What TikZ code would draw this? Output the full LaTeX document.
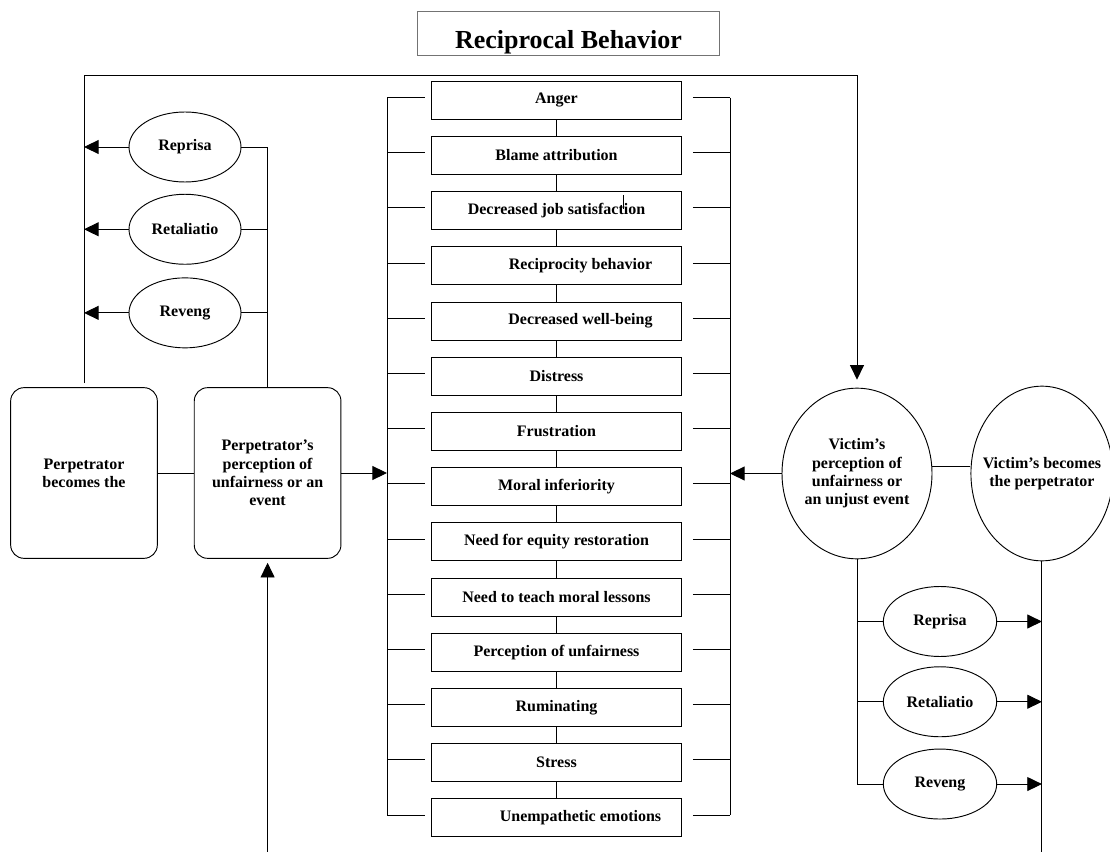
\documentclass[tikz,border=0pt]{standalone}
\usepackage{fontspec}
\setmainfont{Liberation Serif}
\usetikzlibrary{positioning, shapes.geometric, arrows.meta}

\begin{document}
\begin{tikzpicture}[x=0.75pt, y=-0.75pt, >={Triangle[length=11pt,width=10.5pt]},
    line width=0.7pt, font=\bfseries\fontsize{12}{13.7}\selectfont,
    midbox/.style={draw, rectangle, minimum width=188pt, minimum height=28.5pt, inner sep=0pt},
    outcome/.style={draw, ellipse, minimum width=84pt, minimum height=52.5pt, inner sep=0pt},
    roundbox/.style={draw, rectangle, rounded corners=10pt, minimum width=110pt, minimum height=128pt, inner sep=0pt, align=center},
    bigoval/.style={draw, ellipse, inner sep=0pt, align=center}]

  \useasboundingbox (0,0) rectangle (1110,852);

  % title
  \node[draw=black!55, minimum width=227pt, minimum height=33pt, inner sep=0pt,
        text height=23pt, text depth=0pt, font=\bfseries\fontsize{19.5}{22}\selectfont]
        (title) at (568.5,33) {Reciprocal Behavior};

  % perpetrator side
  \node[roundbox] (pbecome) at (84,473) {Perpetrator\\becomes the};
  \node[roundbox, right=27pt of pbecome] (pperc) {Perpetrator’s\\perception of\\unfairness or an\\event};

  \node[outcome] (lrep) at (185,147) {Reprisa};
  \node[outcome, below=8.5pt of lrep] (lret) {Retaliatio};
  \node[outcome, below=9.5pt of lret] (lrev) {Reveng};

  % middle column
  \matrix (mid) [row sep=12.2pt, nodes={midbox}] at (556.5,459) {
    \node (b1) {Anger}; \\
    \node (b2) {Blame attribution}; \\
    \node (b3) {Decreased job satisfaction}; \\
    \node (b4) {\hspace*{36pt}Reciprocity behavior}; \\
    \node (b5) {\hspace*{36pt}Decreased well-being}; \\
    \node (b6) {Distress}; \\
    \node (b7) {Frustration}; \\
    \node (b8) {Moral inferiority}; \\
    \node (b9) {Need for equity restoration}; \\
    \node (b10) {Need to teach moral lessons}; \\
    \node (b11) {Perception of unfairness}; \\
    \node (b12) {Ruminating}; \\
    \node (b13) {Stress}; \\
    \node (b14) {\hspace*{36pt}Unempathetic emotions}; \\
  };

  % victim side
  \node[bigoval, minimum width=112.5pt, minimum height=128pt, inner xsep=-2pt] (victim) at (857,473.5)
        {Victim’s\\perception of\\unfairness or\\an unjust event};
  \node[bigoval, minimum width=106.5pt, minimum height=131pt, inner xsep=-8pt, right=28.5pt of victim]
        (vbecome) {Victim’s becomes\\the perpetrator};

  \node[outcome, minimum width=85pt] (rrep) at (940,621.5) {Reprisa};
  \node[outcome, minimum width=85pt, below=7pt of rrep] (rret) {Retaliatio};
  \node[outcome, minimum width=85pt, below=8.5pt of rret] (rrev) {Reveng};

  \coordinate (topline) at (0,75);
  \coordinate (bottomline) at (0,852);
  \coordinate (lbr) at (387,0);
  \coordinate (rbr) at (730,0);

  % loop over the top
  \draw[->, shorten <=3pt, shorten >=6pt] (pbecome.north) -- (pbecome.north |- topline) -| (victim.north);

  \foreach \o in {lrep, lret, lrev}
    \draw[->] (\o.west) -- (\o.west -| pbecome.north);
  \draw (pperc.north) -- (pperc.north |- lrep.east) -- (lrep.east);
  \draw (lret.east) -- (lret.east -| pperc.north);
  \draw (lrev.east) -- (lrev.east -| pperc.north);
  \draw (pbecome.east) -- (pperc.west);
  \draw[->, shorten >=3pt] (pperc.south |- bottomline) -- (pperc.south);
  \draw[->] (pperc.east) -- (pperc.east -| lbr);

  % brackets
  \foreach \i in {1,...,14} {
    \coordinate (lt\i) at ([yshift=2pt, xshift=-4.5pt]b\i.west);
    \coordinate (rt\i) at ([yshift=2pt, xshift=8pt]b\i.east);
    \draw (lt\i -| lbr) -- (lt\i);
    \draw (rt\i) -- (rt\i -| rbr);
  }
  \draw (lt1 -| lbr) -- (lt14 -| lbr);
  \draw (rt1 -| rbr) -- (rt14 -| rbr);

  \foreach \i [count=\j from 2] in {1,...,13}
    \draw (b\i.south) -- (b\j.north);
  \draw ([xshift=50pt, yshift=-3pt]b3.north) -- ++(0,14);

  \draw[->] (victim.west) -- (victim.west -| rbr);
  \draw (victim.5) -- (vbecome.west |- victim.5);
  \draw (vbecome.south) -- (vbecome.south |- bottomline);

  \draw (victim.south) |- (rrev.west);
  \draw (victim.south |- rrep.west) -- (rrep.west);
  \draw (victim.south |- rret.west) -- (rret.west);
  \foreach \o in {rrep, rret, rrev}
    \draw[->] (\o.east) -- (\o.east -| vbecome.south);
\end{tikzpicture}
\end{document}
